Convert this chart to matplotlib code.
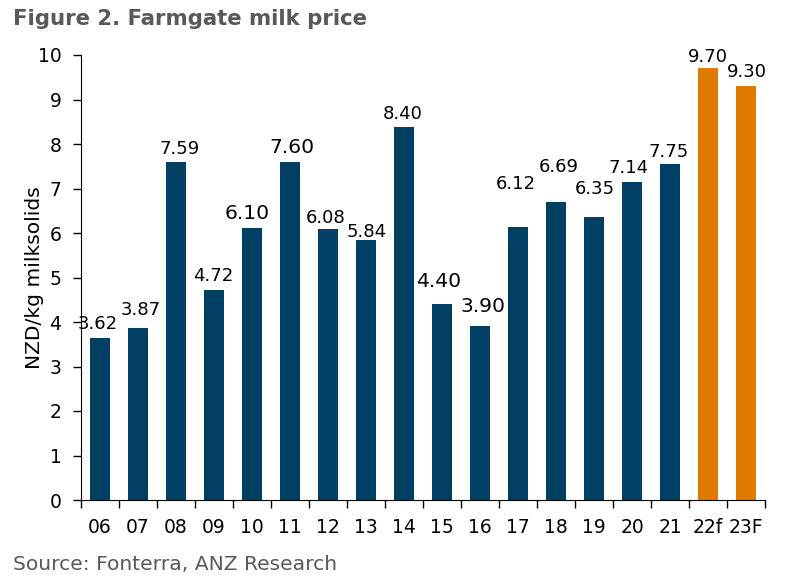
import matplotlib.pyplot as plt
from matplotlib.ticker import FixedLocator

#==Dados==#
seasons = ['06', '07', '08', '09', '10', '11', '12', '13', '14', '15',
           '16', '17', '18', '19', '20', '21', '22f', '23F']
prices = [3.64, 3.87, 7.60, 4.72, 6.12, 7.60, 6.10, 5.84, 8.39, 4.41,
          3.92, 6.14, 6.70, 6.37, 7.15, 7.56, 9.70, 9.31]
price_labels = ['3.62', '3.87', '7.59', '4.72', '6.10', '7.60', '6.08', '5.84', '8.40', '4.40',
                '3.90', '6.12', '6.69', '6.35', '7.14', '7.75', '9.70', '9.30']

#==Estilo==#
navy = '#004064'
orange = '#de7a00'
grey = '#595959'
colors = [navy] * 16 + [orange] * 2
# deslocamento dos rótulos (pixels) e tamanho da fonte
dx = [-2, 3, 4, -1, -5, 2, -2, 1, -1, -3, 3, -2, 3, 1, -3, -1, 0, 1]
dy = [14, 18, 13, 14, 14, 14, 11, 8, 13, 22, 19, 43, 35, 28, 14, 12, 11, 14]
big = ['10', '11', '15', '16']

plt.rcParams['font.family'] = 'DejaVu Sans'

fig = plt.figure(figsize=(7.88, 5.82), dpi=100)
ax = fig.add_axes([81 / 788, 82 / 582, 684 / 788, 445 / 582])

x = range(len(seasons))
ax.bar(x, prices, width=0.52, color=colors)

for i, (p, lab) in enumerate(zip(prices, price_labels)):
    fs = 14.6 if seasons[i] in big else 13
    ax.annotate(lab, (i, p), textcoords='offset points',
                xytext=(dx[i] * 0.72, dy[i] * 0.72), ha='center', va='center',
                fontsize=fs, color='black')

ax.set_xlim(-0.5, len(seasons) - 0.5)
ax.set_ylim(0, 10)
ax.set_yticks(range(0, 11))
ax.set_xticks(list(x))
ax.set_xticklabels(seasons)
ax.xaxis.set_minor_locator(FixedLocator([i - 0.5 for i in range(len(seasons) + 1)]))
ax.tick_params(axis='x', which='major', length=0, pad=13, labelsize=13.5)
ax.tick_params(axis='x', which='minor', length=5.5, width=1, direction='out')
ax.tick_params(axis='y', length=5.5, width=1, pad=8.5, labelsize=13.5)

ax.spines['top'].set_visible(False)
ax.spines['right'].set_visible(False)
ax.set_ylabel('NZD/kg milksolids', fontsize=14.6, labelpad=-4.5)

fig.text(13 / 788, 1 - 19 / 582, 'Figure 2. Farmgate milk price', fontsize=15.3,
         fontweight='bold', color=grey, ha='left', va='center')
fig.text(13 / 788, 1 - 565 / 582, 'Source: Fonterra, ANZ Research', fontsize=14.6,
         color=grey, ha='left', va='center')

fig.savefig('out.png', dpi=100)
